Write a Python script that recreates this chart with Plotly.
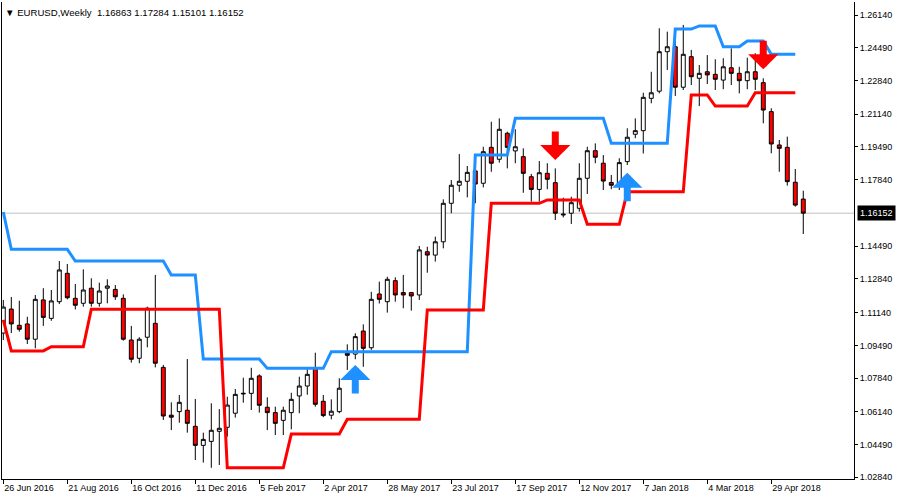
import plotly.graph_objects as go

# ---------------- data ----------------
bars = list(range(101))  # weekly bars, bar 0 = week of 26 Jun 2016

opens = [1.1011, 1.1132, 1.1050, 1.1057, 1.0980, 1.1178, 1.1085, 1.1169, 1.1312, 1.1186,
         1.1161, 1.1237, 1.1161, 1.1237, 1.1231, 1.1186, 1.0976, 1.0884, 1.0990, 1.1060,
         1.0838, 1.0597, 1.0615, 1.0622, 1.0541, 1.0445, 1.0465, 1.0516, 1.0536, 1.0607,
         1.0704, 1.0707, 1.0795, 1.0637, 1.0610, 1.0571, 1.0610, 1.0694, 1.0744, 1.0833,
         1.0667, 1.0597, 1.0615, 1.0909, 1.0905, 1.1021, 1.0937, 1.1208, 1.1169, 1.1275,
         1.1215, 1.1215, 1.1203, 1.1421, 1.1404, 1.1471, 1.1665, 1.1756, 1.1776, 1.1828,
         1.1766, 1.1947, 1.1887, 1.2018, 1.1929, 1.1900, 1.1799, 1.1735, 1.1816, 1.1769,
         1.1606, 1.1615, 1.1640, 1.1791, 1.1930, 1.1867, 1.1770, 1.1757, 1.1875, 1.2013,
         1.2031, 1.2194, 1.2230, 1.2429, 1.2454, 1.2250, 1.2404, 1.2295, 1.2328, 1.2315,
         1.2286, 1.2348, 1.2320, 1.2283, 1.2328, 1.2273, 1.2127, 1.1959, 1.1947, 1.1771,
         1.16863]
highs = [1.1178, 1.1193, 1.1174, 1.1093, 1.1203, 1.1237, 1.1228, 1.1374, 1.1359, 1.1258,
         1.1332, 1.1287, 1.1265, 1.1282, 1.1253, 1.1206, 1.1047, 1.0990, 1.1144, 1.1304,
         1.0850, 1.0662, 1.0699, 1.0880, 1.0679, 1.0509, 1.0657, 1.0628, 1.0690, 1.0729,
         1.0786, 1.0836, 1.0803, 1.0687, 1.0640, 1.0640, 1.0710, 1.0791, 1.0833, 1.0912,
         1.0699, 1.0677, 1.0783, 1.0954, 1.1010, 1.1055, 1.1219, 1.1270, 1.1295, 1.1292,
         1.1304, 1.1218, 1.1450, 1.1446, 1.1497, 1.1685, 1.1782, 1.1913, 1.1853, 1.1845,
         1.1950, 1.2076, 1.2093, 1.2026, 1.2038, 1.1942, 1.1813, 1.1878, 1.1867, 1.1841,
         1.1693, 1.1698, 1.1867, 1.1950, 1.1967, 1.1908, 1.1808, 1.1892, 1.2043, 1.2093,
         1.2222, 1.2328, 1.2547, 1.2530, 1.2506, 1.2564, 1.2438, 1.2362, 1.2412, 1.2391,
         1.2396, 1.2446, 1.2353, 1.2399, 1.2421, 1.2295, 1.2144, 1.1984, 1.2001, 1.1838,
         1.17284]
lows = [1.0976, 1.1011, 1.1018, 1.0956, 1.0934, 1.1047, 1.1073, 1.1157, 1.1181, 1.1130,
        1.1144, 1.1144, 1.1144, 1.1161, 1.1178, 1.0973, 1.0862, 1.0859, 1.0939, 1.0838,
        1.0573, 1.0522, 1.0559, 1.0509, 1.0371, 1.0358, 1.0332, 1.0346, 1.0489, 1.0585,
        1.0660, 1.0623, 1.0610, 1.0522, 1.0497, 1.0497, 1.0526, 1.0607, 1.0700, 1.0640,
        1.0587, 1.0576, 1.0607, 1.0825, 1.0879, 1.0841, 1.0926, 1.1160, 1.1114, 1.1169,
        1.1136, 1.1124, 1.1178, 1.1315, 1.1371, 1.1438, 1.1615, 1.1723, 1.1695, 1.1665,
        1.1745, 1.1824, 1.1870, 1.1841, 1.1867, 1.1718, 1.1673, 1.1673, 1.1736, 1.1581,
        1.1594, 1.1561, 1.1623, 1.1712, 1.1867, 1.1732, 1.1736, 1.1732, 1.1858, 1.1993,
        1.1916, 1.2169, 1.2219, 1.2337, 1.2206, 1.2236, 1.2261, 1.2155, 1.2266, 1.2236,
        1.2240, 1.2261, 1.2219, 1.2240, 1.2236, 1.2068, 1.1917, 1.1824, 1.1754, 1.1648,
        1.15101]
closes = [1.1142, 1.1057, 1.1030, 1.0980, 1.1181, 1.1090, 1.1173, 1.1329, 1.1189, 1.1151,
          1.1228, 1.1161, 1.1223, 1.1248, 1.1194, 1.0980, 1.0879, 1.0980, 1.1136, 1.0859,
          1.0593, 1.0587, 1.0662, 1.0556, 1.0445, 1.0475, 1.0521, 1.0531, 1.0648, 1.0702,
          1.0707, 1.0783, 1.0647, 1.0610, 1.0556, 1.0622, 1.0677, 1.0744, 1.0803, 1.0652,
          1.0595, 1.0617, 1.0733, 1.0899, 1.0993, 1.0934, 1.1181, 1.1181, 1.1282, 1.1203,
          1.1203, 1.1198, 1.1430, 1.1404, 1.1471, 1.1665, 1.1756, 1.1776, 1.1821, 1.1762,
          1.1925, 1.1867, 1.2038, 1.1947, 1.1950, 1.1816, 1.1735, 1.1819, 1.1786, 1.1615,
          1.1610, 1.1668, 1.1791, 1.1930, 1.1897, 1.1777, 1.1756, 1.1870, 1.1998, 1.2031,
          1.2199, 1.2222, 1.2429, 1.2454, 1.2250, 1.2416, 1.2303, 1.2320, 1.2312, 1.2290,
          1.2353, 1.2320, 1.2283, 1.2328, 1.2290, 1.2135, 1.1964, 1.1942, 1.1774, 1.1656,
          1.16152]

# upper (blue) and lower (red) channel lines, one value per bar 0..99
upper_line = [1.1621, 1.1433, 1.1433, 1.1433, 1.1433, 1.1433, 1.1433, 1.1433, 1.1433, 1.1374,
              1.1374, 1.1374, 1.1374, 1.1374, 1.1374, 1.1374, 1.1374, 1.1374, 1.1374, 1.1374,
              1.1374, 1.1304, 1.1304, 1.1304, 1.1304, 1.0880, 1.0880, 1.0880, 1.0880, 1.0880,
              1.0880, 1.0880, 1.0880, 1.0833, 1.0833, 1.0833, 1.0833, 1.0833, 1.0833, 1.0833,
              1.0833, 1.0917, 1.0917, 1.0917, 1.0917, 1.0917, 1.0917, 1.0917, 1.0917, 1.0917,
              1.0917, 1.0917, 1.0917, 1.0917, 1.0917, 1.0917, 1.0917, 1.0917, 1.0917, 1.1908,
              1.1908, 1.1908, 1.1908, 1.1908, 1.2093, 1.2093, 1.2093, 1.2093, 1.2093, 1.2093,
              1.2093, 1.2093, 1.2093, 1.2093, 1.2093, 1.2093, 1.1967, 1.1967, 1.1967, 1.1967,
              1.1967, 1.1967, 1.1967, 1.1967, 1.2543, 1.2543, 1.2543, 1.2559, 1.2559, 1.2559,
              1.2454, 1.2454, 1.2454, 1.2483, 1.2483, 1.2483, 1.2416, 1.2416, 1.2416, 1.2416]
lower_line = [1.1077, 1.0921, 1.0921, 1.0921, 1.0921, 1.0921, 1.0942, 1.0942, 1.0942, 1.0942,
              1.0942, 1.1131, 1.1131, 1.1131, 1.1131, 1.1131, 1.1131, 1.1131, 1.1131, 1.1131,
              1.1131, 1.1131, 1.1131, 1.1131, 1.1131, 1.1131, 1.1131, 1.1131, 1.0332, 1.0332,
              1.0332, 1.0332, 1.0332, 1.0332, 1.0332, 1.0332, 1.0502, 1.0502, 1.0502, 1.0502,
              1.0502, 1.0502, 1.0502, 1.0576, 1.0576, 1.0576, 1.0576, 1.0576, 1.0576, 1.0576,
              1.0576, 1.0576, 1.0576, 1.1127, 1.1127, 1.1127, 1.1127, 1.1127, 1.1127, 1.1127,
              1.1127, 1.1665, 1.1665, 1.1665, 1.1665, 1.1665, 1.1665, 1.1665, 1.1682, 1.1682,
              1.1682, 1.1682, 1.1682, 1.1559, 1.1559, 1.1559, 1.1559, 1.1559, 1.1723, 1.1723,
              1.1723, 1.1723, 1.1723, 1.1723, 1.1723, 1.1723, 1.2211, 1.2211, 1.2211, 1.2155,
              1.2155, 1.2155, 1.2155, 1.2155, 1.2222, 1.2222, 1.2222, 1.2222, 1.2222, 1.2222]

# signal arrows (bar index, price of arrow tip)
buy_bars = [44, 78]
buy_prices = [1.0850, 1.1819]
sell_bars = [69, 95]
sell_prices = [1.1883, 1.2340]

date_tick_bars = [0, 8, 16, 24, 32, 40, 48, 56, 64, 72, 80, 88, 96]
date_tick_labels = ["26 Jun 2016", "21 Aug 2016", "16 Oct 2016", "11 Dec 2016", "5 Feb 2017",
                    "2 Apr 2017", "28 May 2017", "23 Jul 2017", "17 Sep 2017", "12 Nov 2017",
                    "7 Jan 2018", "4 Mar 2018", "29 Apr 2018"]
price_ticks = [1.26140, 1.24490, 1.22840, 1.21140, 1.19490, 1.17840, 1.14490,
               1.12840, 1.11140, 1.09490, 1.07840, 1.06140, 1.04490, 1.02840]

symbol = "EURUSD"
timeframe = "Weekly"

# ---------------- figure ----------------
FONT = "Liberation Sans, Arial, sans-serif"
FS = 9

fig = go.Figure()

fig.add_trace(go.Candlestick(
    x=bars, open=opens, high=highs, low=lows, close=closes,
    increasing=dict(line=dict(color="black", width=1), fillcolor="white"),
    decreasing=dict(line=dict(color="black", width=1), fillcolor="#FF0000"),
    whiskerwidth=0, showlegend=False, hoverinfo="skip",
))

fig.add_trace(go.Scatter(x=bars[:len(upper_line)], y=upper_line, mode="lines",
                         line=dict(color="#1E90FF", width=3), showlegend=False, hoverinfo="skip"))
fig.add_trace(go.Scatter(x=bars[:len(lower_line)], y=lower_line, mode="lines",
                         line=dict(color="#FF0000", width=3), showlegend=False, hoverinfo="skip"))

# current price line
fig.add_shape(type="line", xref="paper", x0=0, x1=1, yref="y", y0=closes[-1], y1=closes[-1],
              line=dict(color="#C0C0C0", width=1), layer="below")

annotations = []
for b, p in zip(buy_bars, buy_prices):
    annotations.append(dict(x=b, y=p, xref="x", yref="y", text="", showarrow=True,
                            ax=0, ay=30, arrowhead=1, arrowsize=0.72, arrowwidth=7,
                            arrowcolor="#1E90FF", standoff=0))
for b, p in zip(sell_bars, sell_prices):
    annotations.append(dict(x=b, y=p, xref="x", yref="y", text="", showarrow=True,
                            ax=0, ay=-30, arrowhead=1, arrowsize=0.72, arrowwidth=7,
                            arrowcolor="#FF0000", standoff=0))

title = "\u25BC {},{}\u00a0\u00a0{:.5f} {:.5f} {:.5f} {:.5f}".format(
    symbol, timeframe, opens[-1], highs[-1], lows[-1], closes[-1])
annotations.append(dict(x=0, y=1, xref="paper", yref="paper", xanchor="left", yanchor="top",
                        xshift=2, yshift=-4, text=title, showarrow=False, borderpad=0,
                        font=dict(family=FONT, size=9.6, color="black")))
annotations.append(dict(x=1, y=closes[-1], xref="paper", yref="y", xanchor="left",
                        yanchor="middle", xshift=3, text="{:.5f}".format(closes[-1]),
                        showarrow=False, bgcolor="black", borderpad=2,
                        font=dict(family=FONT, size=FS, color="white")))

fig.update_layout(
    width=900, height=500,
    margin=dict(l=2, r=46, t=2, b=21, pad=0, autoexpand=False),
    paper_bgcolor="white", plot_bgcolor="white",
    hovermode=False, showlegend=False,
    boxgap=0.3,
    annotations=annotations,
    font=dict(family=FONT, size=FS, color="black"),
    xaxis=dict(range=[-0.1625, 106.34], showgrid=False, zeroline=False,
               showline=True, linecolor="black", linewidth=1,
               ticks="outside", ticklen=4, tickcolor="black", tickangle=0,
               tickvals=date_tick_bars, ticktext=date_tick_labels,
               ticklabelposition="outside right", automargin=False,
               rangeslider=dict(visible=False), fixedrange=True),
    yaxis=dict(range=[1.027544, 1.267952], side="right", showgrid=False, zeroline=False,
               showline=True, mirror=True, linecolor="black", linewidth=1,
               ticks="outside", ticklen=3, tickcolor="black", automargin=False,
               tickvals=price_ticks, ticktext=["{:.5f}".format(v) for v in price_ticks],
               fixedrange=True),
)

fig.write_html("out.html", config={"displayModeBar": False, "staticPlot": True},
               post_script="document.body.style.margin='0';")
